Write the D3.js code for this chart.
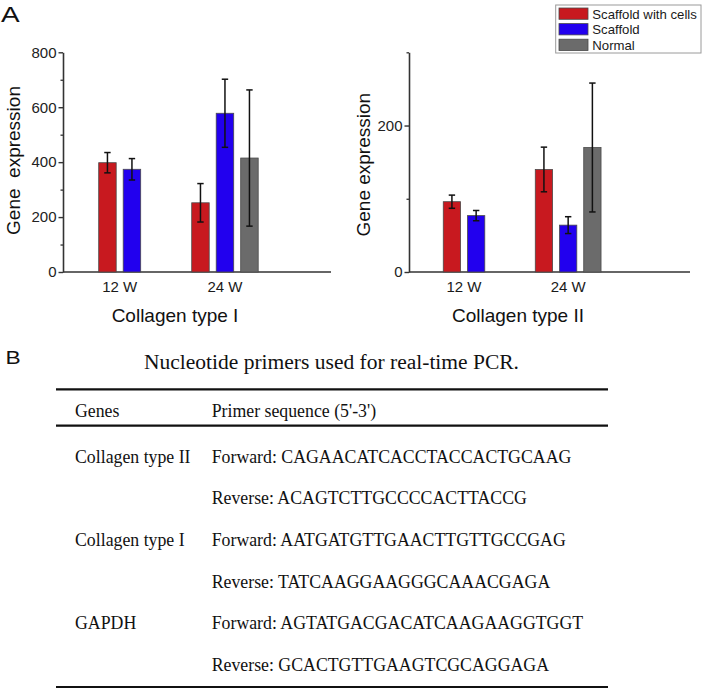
<!DOCTYPE html>
<html>
<head>
<meta charset="utf-8">
<script src="https://cdn.jsdelivr.net/npm/d3@7"></script>
<style>
  html, body { margin: 0; padding: 0; background: #fff; }
  svg { display: block; }
</style>
</head>
<body>
<svg id="fig" width="703" height="690"></svg>
<script>
// ---------------- DATA ----------------
const groups = ["12 W", "24 W"];
const seriesNames = ["Scaffold with cells", "Scaffold", "Normal"];
const seriesColors = ["#c8191f", "#2200ee", "#6b6b6b"];

// Collagen type I (left panel)
const col1Cells    = [398, 252];
const col1CellsErr = [37, 70];
const col1Scaf     = [374, 578];
const col1ScafErr  = [39, 124];
const col1Normal   = [null, 415];
const col1NormalErr= [null, 248];
const col1Major = [0, 200, 400, 600, 800];
const col1Minor = [100, 300, 500, 700];

// Collagen type II (right panel)
const col2Cells    = [96, 140];
const col2CellsErr = [9, 30.5];
const col2Scaf     = [77, 64];
const col2ScafErr  = [7, 11.5];
const col2Normal   = [null, 170];
const col2NormalErr= [null, 88];
const col2Major = [0, 200];
const col2Minor = [100, 300];

// Table
const tableTitle = "Nucleotide primers used for real-time PCR.";
const tableHeader = ["Genes", "Primer sequence (5'-3')"];
const tableGenes = ["Collagen type II", "", "Collagen type I", "", "GAPDH", ""];
const tablePrimers = [
  "Forward: CAGAACATCACCTACCACTGCAAG",
  "Reverse: ACAGTCTTGCCCCACTTACCG",
  "Forward: AATGATGTTGAACTTGTTGCCGAG",
  "Reverse: TATCAAGGAAGGGCAAACGAGA",
  "Forward: AGTATGACGACATCAAGAAGGTGGT",
  "Reverse: GCACTGTTGAAGTCGCAGGAGA"
];

// ---------------- DRAW ----------------
const svg = d3.select("#fig");
const SANS = "'Liberation Sans', Arial, sans-serif";
const SERIF = "'Liberation Serif', 'Times New Roman', serif";

function buildRows(means, errs) {
  const rows = [];
  groups.forEach((g, gi) => {
    seriesNames.forEach((s, si) => {
      const v = means[si][gi];
      if (v !== null && v !== undefined) rows.push({ group: g, series: s, si, value: v, err: errs[si][gi] });
    });
  });
  return rows;
}

function panel(opt) {
  const g = svg.append("g");
  const y = d3.scaleLinear().domain(opt.domain).range([272, 52.3]);
  const x0 = d3.scaleBand().domain(groups).range(opt.groupRange).paddingInner(0.21).paddingOuter(0);
  const x1 = d3.scaleBand().domain(seriesNames).range([0, x0.bandwidth()]).paddingInner(0.286).paddingOuter(0.143);

  const ax = g.append("g").attr("transform", `translate(${opt.axisX},0)`)
    .call(d3.axisLeft(y).tickValues(opt.major).tickSize(4.5).tickSizeOuter(0).tickPadding(2));
  ax.select(".domain").attr("stroke", "#333").attr("stroke-width", 1.6);
  ax.selectAll(".tick line").attr("stroke", "#333").attr("stroke-width", 1.4);
  ax.selectAll(".tick text").attr("font-family", SANS).attr("font-size", 15).attr("fill", "#222");

  const axm = g.append("g").attr("transform", `translate(${opt.axisX},0)`)
    .call(d3.axisLeft(y).tickValues(opt.minor).tickSize(2.5).tickSizeOuter(0).tickFormat(""));
  axm.select(".domain").remove();
  axm.selectAll(".tick line").attr("stroke", "#333").attr("stroke-width", 1.3);

  g.append("line").attr("x1", opt.axisX).attr("x2", opt.axisEnd)
    .attr("y1", y(0)).attr("y2", y(0)).attr("stroke", "#333").attr("stroke-width", 1.6);

  const rows = buildRows(opt.means, opt.errs);
  g.selectAll("rect.bar").data(rows).join("rect")
    .attr("class", "bar")
    .attr("x", d => x0(d.group) + x1(d.series))
    .attr("width", x1.bandwidth())
    .attr("y", d => y(d.value))
    .attr("height", d => y(0) - y(d.value))
    .attr("fill", d => seriesColors[d.si])
    .attr("stroke", "#4a4a4a").attr("stroke-width", 0.8);

  const eb = g.selectAll("g.err").data(rows).join("g").attr("class", "err")
    .attr("transform", d => `translate(${x0(d.group) + x1(d.series) + x1.bandwidth() / 2},0)`);
  eb.append("line").attr("x1", 0).attr("x2", 0)
    .attr("y1", d => y(d.value + d.err)).attr("y2", d => y(d.value - d.err))
    .attr("stroke", "#111").attr("stroke-width", 1.5);
  eb.append("line").attr("x1", -3.2).attr("x2", 3.2)
    .attr("y1", d => y(d.value + d.err)).attr("y2", d => y(d.value + d.err))
    .attr("stroke", "#111").attr("stroke-width", 1.5);
  eb.append("line").attr("x1", -3.2).attr("x2", 3.2)
    .attr("y1", d => y(d.value - d.err)).attr("y2", d => y(d.value - d.err))
    .attr("stroke", "#111").attr("stroke-width", 1.5);

  groups.forEach(gname => {
    const present = rows.filter(r => r.group === gname);
    const left = d3.min(present, r => x0(r.group) + x1(r.series));
    const right = d3.max(present, r => x0(r.group) + x1(r.series) + x1.bandwidth());
    g.append("text").attr("x", (left + right) / 2).attr("y", 291.5)
      .attr("text-anchor", "middle").attr("font-family", SANS).attr("font-size", 15)
      .attr("fill", "#1a1a1a").text(gname);
  });

  g.append("text").attr("transform", `translate(${opt.yLabelX},${opt.yLabelY}) rotate(-90)`)
    .attr("text-anchor", "middle").attr("font-family", SANS).attr("font-size", 19)
    .attr("fill", "#111").style("white-space", "pre").text(opt.yLabel);

  g.append("text").attr("x", opt.titleX).attr("y", 322)
    .attr("text-anchor", "middle").attr("font-family", SANS).attr("font-size", 19)
    .attr("fill", "#111").text(opt.title);
}

panel({
  domain: [0, 800], axisX: 63, axisEnd: 331, groupRange: [95.2, 261.7],
  major: col1Major, minor: col1Minor,
  means: [col1Cells, col1Scaf, col1Normal], errs: [col1CellsErr, col1ScafErr, col1NormalErr],
  yLabel: "Gene  expression", yLabelX: 20, yLabelY: 160.5,
  title: "Collagen type I", titleX: 175
});

panel({
  domain: [0, 300], axisX: 409, axisEnd: 690, groupRange: [439.8, 604.5],
  major: col2Major, minor: col2Minor,
  means: [col2Cells, col2Scaf, col2Normal], errs: [col2CellsErr, col2ScafErr, col2NormalErr],
  yLabel: "Gene expression", yLabelX: 370, yLabelY: 164.7,
  title: "Collagen type II", titleX: 518
});

// Legend
const leg = svg.append("g");
leg.append("rect").attr("x", 555.7).attr("y", 5).attr("width", 145.3).attr("height", 48)
  .attr("fill", "#fff").attr("stroke", "#9a9a9a").attr("stroke-width", 1);
seriesNames.forEach((s, i) => {
  const yy = 8 + i * 15.6;
  leg.append("rect").attr("x", 559).attr("y", yy).attr("width", 29).attr("height", 11.3)
    .attr("fill", seriesColors[i]).attr("stroke", "#4a4a4a").attr("stroke-width", 0.8);
  leg.append("text").attr("x", 592.3).attr("y", yy + 10.5).attr("font-family", SANS)
    .attr("font-size", 13.2).attr("fill", "#1a1a1a").text(s);
});

// Panel letters
svg.append("text").attr("transform", "translate(1,22) scale(1.3,1)")
  .attr("font-family", SANS).attr("font-size", 21.5).attr("fill", "#111").text("A");
svg.append("text").attr("transform", "translate(5.5,363.5) scale(1.3,1)")
  .attr("font-family", SANS).attr("font-size", 17.5).attr("fill", "#111").text("B");

// Table
const T = svg.append("g");
T.append("text").attr("x", 331.5).attr("y", 369).attr("text-anchor", "middle")
  .attr("font-family", SERIF).attr("font-size", 20).attr("fill", "#111")
  .attr("textLength", 375).attr("lengthAdjust", "spacingAndGlyphs").text(tableTitle);
[389.3, 425.7, 687].forEach(yy => {
  T.append("line").attr("x1", 56).attr("x2", 608).attr("y1", yy).attr("y2", yy)
    .attr("stroke", "#111").attr("stroke-width", 2.2);
});
const colX = [75, 211.7];
tableHeader.forEach((h, i) => {
  T.append("text").attr("x", colX[i]).attr("y", 416.5).attr("font-family", SERIF)
    .attr("font-size", 17.8).attr("fill", "#111").text(h);
});
const rowY = d3.scaleLinear().domain([0, tablePrimers.length - 1]).range([462.5, 670.9]);
tablePrimers.forEach((p, i) => {
  T.append("text").attr("x", colX[0]).attr("y", rowY(i)).attr("font-family", SERIF)
    .attr("font-size", 17.8).attr("fill", "#111").text(tableGenes[i]);
  T.append("text").attr("x", colX[1]).attr("y", rowY(i)).attr("font-family", SERIF)
    .attr("font-size", 17.8).attr("fill", "#111").text(p);
});
</script>
</body>
</html>
